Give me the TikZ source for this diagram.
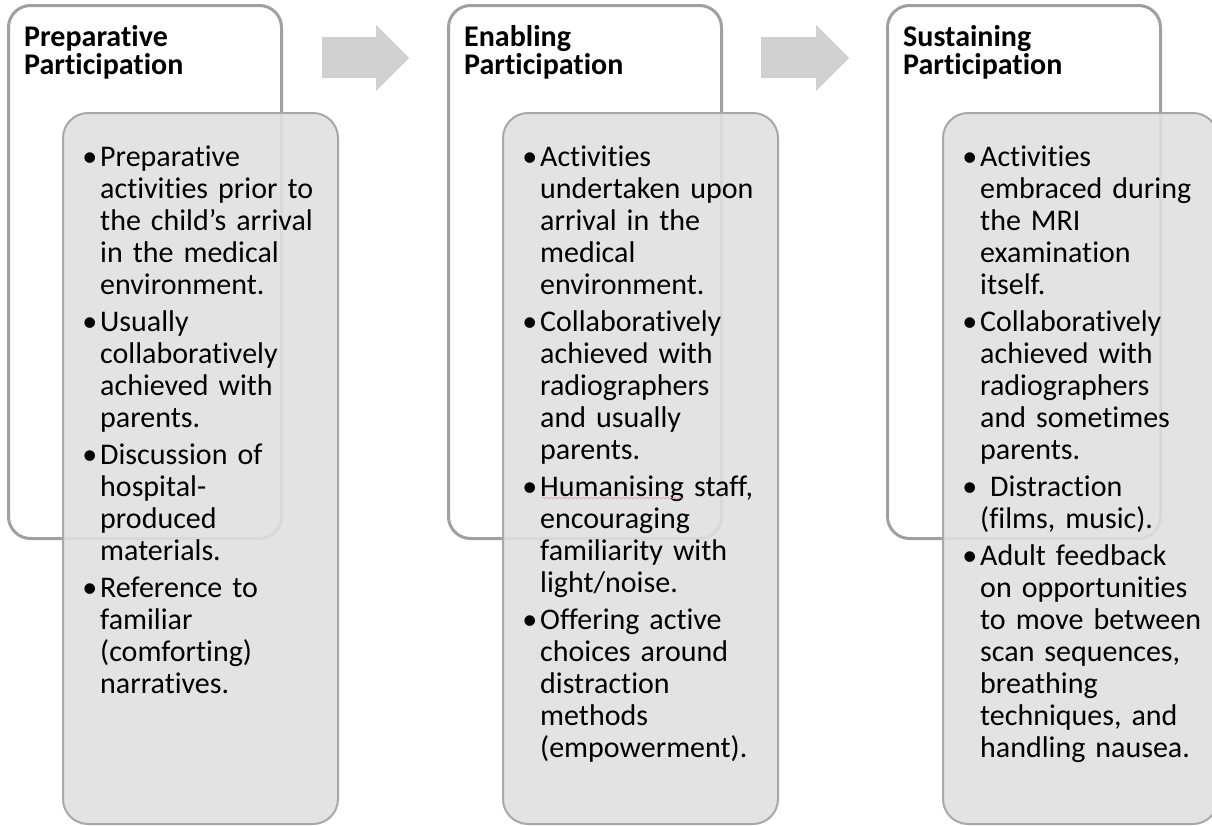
\documentclass[tikz,border=0pt]{standalone}
\usepackage{fontspec}
\setmainfont{Carlito}[Ligatures=NoCommon]
\usetikzlibrary{decorations.pathmorphing}
\definecolor{boxline}{HTML}{A0A0A0}
\definecolor{innerline}{HTML}{A8A8A8}
\definecolor{innerfill}{HTML}{E0E0E0}
\definecolor{arrowfill}{HTML}{D0D0D0}
\definecolor{squiggle}{HTML}{E8A0A0}
\newcommand\bitem{\leavevmode\llap{•\hspace{3pt}}}
\newcommand\bodyfontsel{\fontsize{30}{32}\selectfont\spaceskip 6pt\relax}
\tikzset{
  outerbox/.style={draw=boxline, line width=3pt, rounded corners=22pt, anchor=north west,
    inner sep=0pt, minimum width=273pt, minimum height=533pt},
  innerbox/.style={draw=innerline, line width=2pt, fill=innerfill, fill opacity=0.9,
    rounded corners=25pt, anchor=north west, inner sep=0pt, minimum width=275pt, minimum height=711pt},
  titletext/.style={anchor=base west, inner sep=0pt, align=left, text width=250pt,
    font=\bfseries\fontsize{30}{28}\selectfont},
  bodytext/.style={anchor=base west, inner sep=0pt, align=left, text width=300pt,
    font=\bodyfontsel},
  bigarrow/.style={fill=arrowfill, draw=none}
}
\begin{document}
\begin{tikzpicture}[x=1pt, y=-1pt]
\useasboundingbox (0,0) rectangle (1212,825);
% outer boxes
\node[outerbox] (o1) at (7,4) {};
\node[outerbox] (o2) at (447,4) {};
\node[outerbox] (o3) at (886,4) {};
% arrows
\fill[bigarrow] (322,37) -- (376,37) -- (376,25) -- (409,58) -- (376,91) -- (376,78) -- (322,78) -- cycle;
\fill[bigarrow] (761,37) -- (816,37) -- (816,25) -- (849,58) -- (816,91) -- (816,78) -- (761,78) -- cycle;
% inner boxes
\node[innerbox] (i1) at (62,112) {};
\node[innerbox] (i2) at (502,112) {};
\node[innerbox] (i3) at (942,112) {};
% titles
\node[titletext] (t1) at (24,46) {Preparative\\Participation};
\node[titletext] (t2) at (464,46) {Enabling\\Participation};
\node[titletext] (t3) at (903,46) {Sustaining\\Participation};
% bodies
\node[bodytext] (b1) at (100,166) {%
\bitem Preparative\\activities prior to\\the child’s arrival\\in the medical\\environment.\\[5pt]
\bitem Usually\\collaboratively\\achieved with\\parents.\\[5pt]
\bitem Discussion of\\hospital-\\produced\\materials.\\[5pt]
\bitem Reference to\\familiar\\(comforting)\\narratives.};
\node[bodytext] (b2) at (540,166) {%
\bitem Activities\\undertaken upon\\arrival in the\\medical\\environment.\\[5pt]
\bitem Collaboratively\\achieved with\\radiographers\\and usually\\parents.\\[5pt]
\bitem Humanising staff,\\encouraging\\familiarity with\\light/noise.\\[5pt]
\bitem Offering active\\choices around\\distraction\\methods\\(empowerment).};
\node[bodytext] (b3) at (980,166) {%
\bitem Activities\\embraced during\\the MRI\\examination\\itself.\\[5pt]
\bitem Collaboratively\\achieved with\\radiographers\\and sometimes\\parents.\\[5pt]
\bitem\ Distraction\\(films, music).\\[5pt]
\bitem Adult feedback\\on opportunities\\to move between\\scan sequences,\\breathing\\techniques, and\\handling nausea.};
% spell-check squiggle under "Humanising"
\coordinate (sq1) at (542,498);
\coordinate (sq2) at (682,498);
\draw[squiggle, line width=0.6pt, decorate, decoration={snake, amplitude=0.8pt, segment length=4pt}] (sq1) -- (sq2);
\end{tikzpicture}
\end{document}
